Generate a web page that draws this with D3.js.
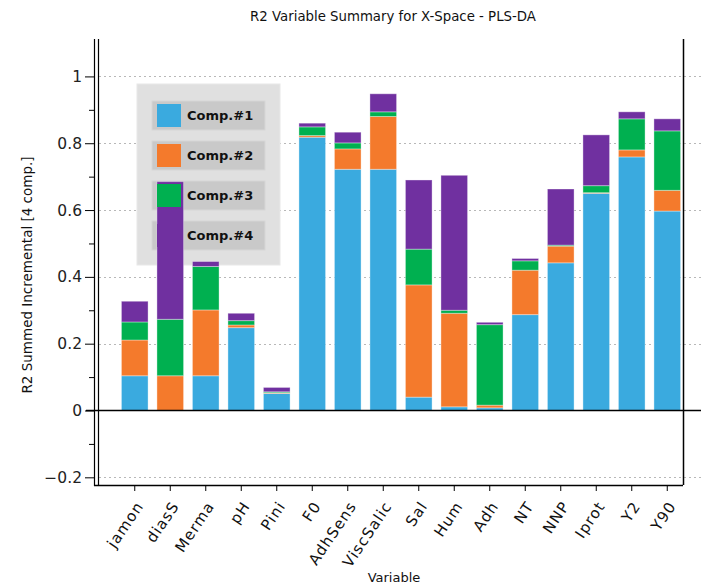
<!DOCTYPE html>
<html>
<head>
<meta charset="utf-8">
<script src="https://d3js.org/d3.v7.min.js"></script>
<style>
  body { margin: 0; background: #fff; }
  svg { display: block; }
  text { font-family: "DejaVu Sans", sans-serif; }
</style>
</head>
<body>
<svg id="chart" width="701" height="587"></svg>
<script>
// categories and the 4 incremental components
const variables = ["jamon", "diasS", "Merma", "pH", "Pini", "F0", "AdhSens", "ViscSalic",
                   "Sal", "Hum", "Adh", "NT", "NNP", "Iprot", "Y2", "Y90"];
const comp1 = [0.104, 0.000, 0.104, 0.248, 0.051, 0.818, 0.722, 0.722, 0.040, 0.011, 0.008, 0.287, 0.442, 0.650, 0.759, 0.597];
const comp2 = [0.107, 0.104, 0.197, 0.008, 0.002, 0.005, 0.061, 0.158, 0.336, 0.280, 0.008, 0.133, 0.050, 0.002, 0.021, 0.062];
const comp3 = [0.054, 0.169, 0.130, 0.013, 0.003, 0.026, 0.018, 0.014, 0.107, 0.009, 0.241, 0.028, 0.003, 0.021, 0.093, 0.178];
const comp4 = [0.062, 0.412, 0.015, 0.022, 0.013, 0.011, 0.032, 0.054, 0.207, 0.404, 0.007, 0.007, 0.168, 0.152, 0.021, 0.036];
const compNames = ["Comp.#1", "Comp.#2", "Comp.#3", "Comp.#4"];
const compColors = ["#3aaadf", "#f47a2c", "#00b050", "#7030a0"];
const yTicks = [-0.2, 0, 0.2, 0.4, 0.6, 0.8, 1];

const svg = d3.select("#chart");
const plotLeft = 96, plotRight = 683, plotTop = 39, plotBottom = 485;

// build table for the stack layout
let table = variables.map((v, i) => ({
    name: v, c0: comp1[i], c1: comp2[i], c2: comp3[i], c3: comp4[i]
}));
let series = d3.stack().keys(["c0", "c1", "c2", "c3"])(table);

let x = d3.scaleBand().domain(variables).range([117, 685]).paddingInner(0.25).paddingOuter(0.125);
let y = d3.scaleLinear().domain([-0.223, 1.112]).range([plotBottom, plotTop]);

// dotted grid lines
svg.append("g").selectAll("line").data(yTicks).join("line")
    .attr("x1", plotLeft + 3).attr("x2", 701)
    .attr("y1", d => Math.round(y(d)) + 0.5).attr("y2", d => Math.round(y(d)) + 0.5)
    .attr("stroke", "#b8b8b8").attr("stroke-dasharray", "2,3");

// legend background (sits under the bars)
const lx = 137, ly = 84;
svg.append("rect").attr("x", lx).attr("y", ly).attr("width", 143).attr("height", 181)
    .attr("fill", "#e0e0e0").attr("stroke", "#e8e8e8");
svg.append("g").selectAll("rect").data(compNames).join("rect")
    .attr("x", lx + 15).attr("y", (d, i) => ly + 17 + i * 40)
    .attr("width", 113).attr("height", 29)
    .attr("fill", "#c9c9c9").attr("stroke", "#d6d6d6");

// stacked bars
svg.append("g").selectAll("g").data(series).join("g")
    .attr("fill", (d, i) => compColors[i])
    .selectAll("rect").data(d => d).join("rect")
    .attr("x", d => x(d.data.name))
    .attr("width", x.bandwidth())
    .attr("y", d => y(d[1]))
    .attr("height", d => Math.max(0, y(d[0]) - y(d[1])))
    .attr("stroke", "#ffffff").attr("stroke-opacity", 0.35).attr("stroke-width", 1);

// legend swatches and labels on top
svg.append("g").selectAll("rect").data(compNames).join("rect")
    .attr("x", lx + 20).attr("y", (d, i) => ly + 20 + i * 40)
    .attr("width", 24).attr("height", 23)
    .attr("fill", (d, i) => compColors[i]);
svg.append("g").selectAll("text").data(compNames).join("text")
    .attr("x", lx + 50).attr("y", (d, i) => ly + 36 + i * 40)
    .attr("font-size", 13).attr("font-weight", "bold").attr("fill", "#111")
    .text(d => d);

// zero line
svg.append("line").attr("x1", 86).attr("x2", 701)
    .attr("y1", Math.round(y(0)) + 0.5).attr("y2", Math.round(y(0)) + 0.5)
    .attr("stroke", "#000").attr("stroke-width", 1.3);

// left axis (double line) with major and minor ticks
let yAxis = d3.axisLeft(y).tickValues(yTicks).tickSize(9).tickPadding(3)
    .tickFormat(d => d === 0 ? "0" : d3.format("")(+d.toFixed(1)));
let gy = svg.append("g").attr("transform", `translate(${plotLeft - 2},0)`).call(yAxis);
gy.select(".domain").remove();
gy.selectAll("text").attr("font-size", 15.5).attr("fill", "#222")
    .attr("font-family", "DejaVu Sans, sans-serif");
svg.append("g").attr("transform", `translate(${plotLeft - 2},0)`)
    .call(d3.axisLeft(y).tickValues([-0.1, 0.1, 0.3, 0.5, 0.7, 0.9]).tickSize(5).tickFormat(""))
    .select(".domain").remove();
[plotLeft - 2, plotLeft + 2].forEach(px => {
    svg.append("line").attr("x1", px + 0.5).attr("x2", px + 0.5)
        .attr("y1", plotTop).attr("y2", plotBottom + 1).attr("stroke", "#000").attr("stroke-width", 1.2);
});

// right border
svg.append("line").attr("x1", plotRight + 0.5).attr("x2", plotRight + 0.5)
    .attr("y1", plotTop).attr("y2", plotBottom).attr("stroke", "#000").attr("stroke-width", 1.5);

// bottom axis
let xAxis = d3.axisBottom(x).tickSize(6).tickPadding(6);
let gx = svg.append("g").attr("transform", `translate(0,${plotBottom})`).call(xAxis);
gx.select(".domain").remove();
svg.append("line").attr("x1", plotLeft - 2).attr("x2", plotRight)
    .attr("y1", plotBottom + 0.5).attr("y2", plotBottom + 0.5).attr("stroke", "#000").attr("stroke-width", 1.3);
gx.selectAll("text")
    .attr("font-size", 15).attr("fill", "#111")
    .attr("letter-spacing", 1.1)
    .attr("text-anchor", "end")
    .attr("x", 0).attr("y", 0).attr("dx", 0).attr("dy", "0.35em")
    .attr("transform", "translate(5,18) rotate(-56)");

// titles
svg.append("text").attr("x", 393).attr("y", 21).attr("text-anchor", "middle")
    .attr("font-size", 13.3).attr("fill", "#111")
    .text("R2 Variable Summary for X-Space - PLS-DA");
svg.append("text").attr("x", 394).attr("y", 582).attr("text-anchor", "middle")
    .attr("font-size", 13).attr("fill", "#111").text("Variable");
svg.append("text").attr("transform", "translate(32,275) rotate(-90)")
    .attr("text-anchor", "middle").attr("font-size", 13.5).attr("fill", "#111")
    .text("R2 Summed Incremental [4 comp.]");
</script>
</body>
</html>
